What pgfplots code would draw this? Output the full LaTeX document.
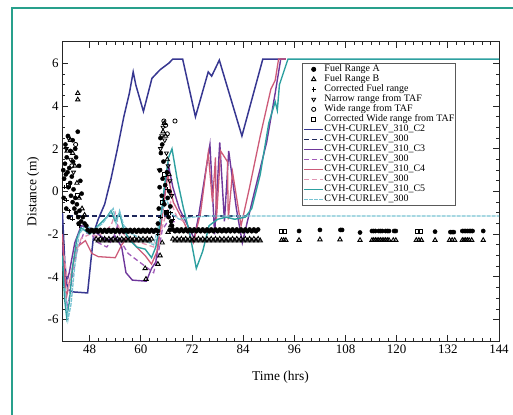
\documentclass[border=0pt]{standalone}
\usepackage{fontspec}
\setmainfont{Liberation Serif}
\usepackage{pgfplots}
\pgfplotsset{compat=1.18}

\definecolor{frameteal}{RGB}{40,160,140}
\definecolor{cTwo}{RGB}{55,55,145}
\definecolor{cNavy}{RGB}{30,40,90}
\definecolor{cThree}{RGB}{110,55,155}
\definecolor{cThreeD}{RGB}{160,90,185}
\definecolor{cFour}{RGB}{205,90,120}
\definecolor{cFourD}{RGB}{225,150,180}
\definecolor{cFive}{RGB}{45,160,160}
\definecolor{cFiveD}{RGB}{120,195,210}

\begin{document}
\begin{tikzpicture}
\path[use as bounding box] (0,0) rectangle (513bp,415bp);
\draw[frameteal, line width=1.5bp] (12bp,-2bp) -- (12bp,407bp) -- (515bp,407bp);
\begin{axis}[
  at={(62bp,74bp)}, anchor=south west,
  width=437bp, height=299bp, scale only axis,
  xmin=41.5, xmax=144, ymin=-7, ymax=7,
  xtick={48,60,...,144}, ytick={-6,-4,...,6},
  minor x tick num=5, minor y tick num=3,
  tick align=inside, major tick length=6bp, minor tick length=3bp,
  axis line style={black!85, line width=1bp},
  every tick/.style={black!85, line width=0.9bp},
  ticklabel style={font=\fontsize{13}{13}\selectfont},
  /pgf/number format/assume math mode=true,
  xlabel={Time (hrs)}, ylabel={Distance (m)},
  label style={font=\fontsize{13.5}{14}\selectfont},
  xlabel style={at={(axis description cs:0.5,-0.12)}, anchor=center},
  ylabel style={at={(axis description cs:-0.066,0.5)}, anchor=center},
  legend style={at={(rel axis cs:0.549,0.930)}, anchor=north west,
    draw=black!65, line width=0.8bp, fill=white,
    font=\fontsize{10}{10}\selectfont, inner xsep=1bp, inner ysep=1bp,
    row sep=0pt, nodes={inner sep=0.4bp, text height=7bp, text depth=2.2bp}},
  legend cell align=left,
  legend image code/.code={\draw[mark repeat=2,mark phase=2,#1]
    plot coordinates {(0cm,0cm) (0.34cm,0cm) (0.68cm,0cm)};},
]

% Fuel Range A
\addplot[only marks, mark=*, mark size=2.1bp, black] coordinates {
(41.8,1.0)(42.0,0.6)(42.2,1.3)(42.4,0.8)(42.6,1.6)(42.8,0.9)(43.0,0.2)(43.2,1.1)(43.4,0.4)(43.6,-0.2)
(43.8,0.7)(44.0,-0.5)(44.2,0.1)(44.4,-0.8)(44.6,-0.3)(44.8,-1.0)(45.0,-0.6)(45.3,-1.2)(45.6,-0.9)(46.0,-1.4)
(46.4,-1.2)(46.8,-1.5)(47.2,-1.6)(45.2,2.8)(44.6,2.0)(45.5,1.2)(45.8,0.5)(46.1,-0.1)(42.3,2.2)(42.9,2.6)
(43.5,1.9)(44.1,1.4)(41.9,-0.3)(42.5,-0.8)(43.1,-1.2)(45.4,-1.5)(44.0,2.4)(44.8,1.6)
(47.5,-1.80)(48.0,-1.88)(48.5,-1.80)(49.0,-1.88)(49.5,-1.80)(50.0,-1.88)(50.5,-1.80)(51.0,-1.88)
(51.5,-1.80)(52.0,-1.88)(52.5,-1.80)(53.0,-1.88)(53.5,-1.80)(54.0,-1.88)(54.5,-1.80)(55.0,-1.88)
(55.5,-1.80)(56.0,-1.88)(56.5,-1.80)(57.0,-1.88)(57.5,-1.80)(58.0,-1.88)(58.5,-1.80)(59.0,-1.88)
(59.5,-1.80)(60.0,-1.88)(60.5,-1.80)(61.0,-1.88)(61.5,-1.80)(62.0,-1.88)(62.5,-1.80)(63.0,-1.88)
(64.0,-1.5)(64.2,-0.8)(64.4,0.2)(64.5,1.0)(64.7,1.8)(64.9,-0.2)(65.1,0.6)(65.3,1.4)(65.5,-0.6)(65.7,0.3)
(65.9,-1.0)(66.1,0.9)(66.3,-0.3)(66.5,-1.2)(66.7,0.0)(66.9,-0.7)(67.1,-1.4)(67.3,-1.6)(64.6,2.5)(65.0,2.2)
(63.5,-1.8)(64.0,-1.85)(66.8,-1.8)
(67.5,-1.78)(68.0,-1.86)(68.5,-1.78)(69.0,-1.86)(69.5,-1.78)(70.0,-1.86)(70.5,-1.78)(71.0,-1.86)
(71.5,-1.78)(72.0,-1.86)(72.5,-1.78)(73.0,-1.86)(73.5,-1.78)(74.0,-1.86)(74.5,-1.78)(75.0,-1.86)
(75.5,-1.78)(76.0,-1.86)(76.5,-1.78)(77.0,-1.86)(77.5,-1.78)(78.0,-1.86)(78.5,-1.78)(79.0,-1.86)
(79.5,-1.78)(80.0,-1.86)(80.5,-1.78)(81.0,-1.86)(81.5,-1.78)(82.0,-1.86)(82.5,-1.78)(83.0,-1.86)
(83.5,-1.78)(84.0,-1.86)(84.5,-1.78)(85.0,-1.86)(85.5,-1.78)(86.0,-1.86)(86.5,-1.78)(87.0,-1.86)
(87.5,-1.78)
(97.1,-1.85)(102.0,-1.80)(106.8,-1.80)(107.2,-1.80)(111.4,-1.92)
(114.2,-1.85)(114.6,-1.85)(115.0,-1.85)(115.8,-1.85)(116.2,-1.85)(116.6,-1.85)(117.4,-1.85)(117.8,-1.85)
(118.2,-1.85)(119.4,-1.85)(119.8,-1.85)
(129.0,-1.88)(132.6,-1.9)(133.0,-1.9)(133.4,-1.9)(135.4,-1.85)(135.8,-1.85)(136.2,-1.85)(136.6,-1.85)
(137.0,-1.85)(137.4,-1.85)(137.8,-1.85)(140.3,-1.85)
};
\addlegendentry{Fuel Range A}

% Fuel Range B
\addplot[only marks, mark=triangle, mark size=2.5bp, black, mark options={line width=0.9bp}] coordinates {
(45.2,4.6)(45.2,4.3)(43.5,2.4)(44.0,1.8)(44.5,1.2)(45.0,0.4)(45.5,-0.3)(42.7,1.9)(46.2,-0.8)(46.8,-1.1)
(49.5,-2.22)(50.0,-2.30)(50.5,-2.22)(51.0,-2.30)(51.5,-2.22)(52.0,-2.30)(52.5,-2.22)(53.0,-2.30)
(53.5,-2.22)(54.0,-2.30)(54.5,-2.22)(55.0,-2.30)(55.5,-2.22)(56.0,-2.30)(56.5,-2.22)(57.0,-2.30)
(57.5,-2.22)(58.0,-2.30)(58.5,-2.22)(59.0,-2.30)(59.5,-2.22)(60.0,-2.30)(60.5,-2.22)(61.0,-2.30)
(61.5,-2.22)(62.0,-2.30)(62.5,-2.22)
(64.5,-3.0)(64.0,-3.4)(61.0,-3.6)(61.2,-4.1)(65.2,2.8)(65.5,3.2)(65.8,2.6)(66.2,1.5)(66.6,0.8)
(65.0,-2.4)(66.4,-1.9)(67.0,-1.6)
(67.5,-2.22)(68.0,-2.30)(68.5,-2.22)(69.0,-2.30)(69.5,-2.22)(70.0,-2.30)(70.5,-2.22)(71.0,-2.30)
(71.5,-2.22)(72.0,-2.30)(72.5,-2.22)(73.0,-2.30)(73.5,-2.22)(74.0,-2.30)(74.5,-2.22)(75.0,-2.30)
(75.5,-2.22)(76.0,-2.30)(76.5,-2.22)(77.0,-2.30)(77.5,-2.22)(78.0,-2.30)(78.5,-2.22)(79.0,-2.30)
(79.5,-2.22)(80.0,-2.30)(80.5,-2.22)(81.0,-2.30)(81.5,-2.22)(82.0,-2.30)(82.5,-2.22)(83.0,-2.30)
(83.5,-2.22)(84.0,-2.30)(84.5,-2.22)(85.0,-2.30)(85.5,-2.22)(86.0,-2.30)(86.5,-2.22)(87.0,-2.30)
(87.5,-2.22)(88.0,-2.30)
(93.0,-2.28)(93.5,-2.28)(94.0,-2.28)(97.1,-2.28)(102.0,-2.25)(106.7,-2.25)(111.4,-2.28)
(114.2,-2.28)(114.6,-2.28)(115.0,-2.28)(115.4,-2.28)(115.8,-2.28)(116.2,-2.28)(116.6,-2.28)(117.0,-2.28)
(117.4,-2.28)(117.8,-2.28)(118.2,-2.28)(119.2,-2.28)(119.8,-2.28)
(124.6,-2.28)(125.2,-2.28)(125.8,-2.28)(129.0,-2.28)(132.4,-2.28)(133.0,-2.28)(133.6,-2.28)
(135.4,-2.28)(135.8,-2.28)(136.2,-2.28)(136.6,-2.28)(137.0,-2.28)(137.6,-2.28)(140.3,-2.28)
};
\addlegendentry{Fuel Range B}

% Corrected fuel range
\addplot[only marks, mark=+, mark size=2.2bp, black, mark options={line width=0.9bp}] coordinates {
(42.0,0.2)(42.6,-0.4)(43.2,-0.9)(44.0,-1.3)(45.5,-1.6)(64.0,-2.0)(64.6,-1.2)(65.2,-0.4)(66.2,0.1)
(67.0,-1.0)(67.6,-1.3)
};
\addlegendentry{Corrected Fuel range}

% Narrow range from TAF
\addplot[only marks, mark=triangle, mark size=2.3bp, black, mark options={rotate=180, line width=0.8bp}] coordinates {
(64.3,1.0)(64.6,2.0)(64.9,2.6)(65.2,3.0)(65.6,2.4)(66.0,1.8)(66.4,1.2)(66.8,0.5)(67.2,-0.2)
(42.5,2.0)(43.0,2.5)(43.5,1.5)(44.2,0.9)
};
\addlegendentry{Narrow range from TAF}

% Wide range from TAF
\addplot[only marks, mark=o, mark size=2.1bp, black, mark options={line width=0.8bp}] coordinates {
(68.0,3.3)(65.4,3.3)(65.8,3.1)(66.2,2.7)(44.7,2.2)(43.8,1.2)
};
\addlegendentry{Wide range from TAF}

% Corrected wide range from TAF
\addplot[only marks, mark=square, mark size=2bp, black, mark options={line width=0.8bp}] coordinates {
(65.0,-0.5)(65.6,0.8)(66.0,-1.0)(93.0,-1.85)(93.6,-1.85)(124.9,-1.85)(125.5,-1.85)(45.0,-0.2)(43.0,0.3)
};
\addlegendentry{Corrected Wide range from TAF}

% CVH-CURLEV_310_C2
\addplot[cTwo, line width=1.5bp] coordinates {
(41.6,-1.0)(42.2,-3.5)(43.0,-4.6)(44.0,-4.7)(47.5,-4.75)(48.3,-3.2)(49.0,-1.9)(50.0,-1.3)(51.5,-0.6)
(53.0,0.6)(54.5,2.0)(56.0,3.5)(57.3,4.6)(58.2,5.6)(58.8,5.0)(60.6,3.75)(62.6,5.3)(64.5,5.7)(66.5,6.0)
(67.5,6.2)(69.8,6.2)(72.8,3.5)(75.8,5.6)(76.6,5.4)(78.4,6.15)(83.7,2.6)(88.6,6.2)(94.0,6.2)
};
\addlegendentry{CVH-CURLEV\_310\_C2}

% CVH-CURLEV_300
\addplot[cNavy, line width=1.4bp, dash pattern=on 5bp off 3bp] coordinates {
(42.9,-1.15)(85.0,-1.15)
};
\addlegendentry{CVH-CURLEV\_300}

% CVH-CURLEV_310_C3
\addplot[cThree, line width=1.4bp] coordinates {
(41.6,-2.5)(42.3,-4.5)(43.2,-3.8)(44.5,-2.4)(46.0,-1.6)(48.0,-1.7)(50.0,-2.0)(52.0,-2.3)(54.0,-2.1)
(55.5,-2.6)(56.5,-3.8)(58.0,-4.15)(61.3,-4.2)(62.5,-3.6)(63.5,-3.3)(64.5,-1.8)(65.5,-0.2)(66.5,1.2)
(67.5,0.2)(69.0,-0.8)(71.0,-1.6)(72.5,-2.2)(73.5,-1.2)(76.2,2.2)(77.3,-2.0)(78.5,2.3)(79.6,-1.4)
(80.6,1.9)(82.4,-0.8)(83.8,-2.4)(86.3,-0.3)(89.5,2.3)(91.5,4.6)(92.8,6.2)(94.0,6.2)
};
\addlegendentry{CVH-CURLEV\_310\_C3}

% CVH-CURLEV_300
\addplot[cThreeD, line width=1.3bp, dash pattern=on 5bp off 3bp] coordinates {
(42.0,-4.0)(42.8,-5.5)(43.8,-4.2)(45.0,-2.8)(46.5,-2.0)(48.0,-1.9)(50.0,-2.4)(52.0,-2.6)(53.5,-2.2)
(54.5,-1.6)(55.5,-2.4)(57.0,-2.9)(59.0,-3.2)(61.0,-3.5)(63.0,-3.8)(64.0,-3.0)(65.0,-1.8)(66.0,-1.5)
(68.0,-1.4)
};
\addlegendentry{CVH-CURLEV\_300}

% CVH-CURLEV_310_C4
\addplot[cFour, line width=1.3bp] coordinates {
(41.6,-2.0)(42.5,-5.0)(43.5,-4.0)(45.0,-2.6)(47.0,-2.3)(48.5,-2.9)(50.0,-3.05)(54.0,-3.1)(55.5,-2.5)
(57.0,-2.1)(59.0,-2.6)(61.0,-3.0)(62.5,-3.4)(63.8,-2.8)(65.0,-1.2)(66.3,0.8)(67.6,-0.5)(70.0,-1.4)
(72.3,-2.4)(74.0,-1.0)(75.8,1.8)(76.8,-0.5)(77.5,1.6)(77.7,-1.4)(78.7,1.9)(80.3,1.4)(80.5,-1.3)
(81.5,0.9)(83.5,-1.6)(85.5,0.2)(88.0,2.6)(90.5,4.8)(91.5,5.2)(92.3,6.2)(94.0,6.2)
};
\addlegendentry{CVH-CURLEV\_310\_C4}

% CVH-CURLEV_300
\addplot[cFourD, line width=1.3bp, dash pattern=on 5bp off 3bp] coordinates {
(42.0,-3.0)(43.0,-4.5)(44.5,-3.0)(46.0,-2.2)(48.0,-2.0)(50.0,-2.1)(53.0,-1.6)(54.0,-1.0)(55.0,-1.8)
(57.0,-2.2)(60.0,-2.4)(63.0,-2.6)(64.5,-2.0)(66.0,-1.0)(67.0,-0.5)(68.5,-1.2)(70.0,-1.4)
};
\addlegendentry{CVH-CURLEV\_300}

% CVH-CURLEV_310_C5
\addplot[cFive, line width=1.4bp] coordinates {
(41.6,-3.0)(42.1,-5.0)(42.6,-5.9)(43.2,-5.2)(44.0,-3.5)(45.0,-2.2)(46.0,-1.7)(48.0,-2.0)(50.0,-1.6)
(52.0,-1.2)(53.0,-0.9)(54.0,-1.4)(55.0,-1.0)(56.0,-1.8)(57.5,-2.3)(59.0,-2.6)(61.0,-2.7)(62.5,-3.1)
(63.5,-2.6)(64.5,-1.5)(65.5,0.2)(66.5,1.6)(67.3,2.0)(68.5,0.6)(70.0,-0.8)(71.5,-2.0)(73.0,-3.6)
(74.5,-2.8)(76.0,-1.6)(78.0,-1.3)(80.0,-1.2)(82.0,-1.3)(84.5,-1.2)(86.0,-0.8)(88.0,0.8)(90.0,3.2)
(91.5,4.2)(92.0,3.8)(92.5,5.0)(93.5,5.6)(94.5,6.2)(144.0,6.2)
};
\addlegendentry{CVH-CURLEV\_310\_C5}

% CVH-CURLEV_300
\addplot[cFiveD, line width=1.3bp, dash pattern=on 4bp off 1bp] coordinates {
(42.2,-4.5)(42.9,-6.0)(43.6,-5.3)(44.5,-3.5)(45.5,-2.0)(47.0,-1.6)(49.0,-1.8)(51.0,-1.5)(52.5,-1.1)
(53.5,-0.8)(54.2,-1.5)(55.0,-0.9)(56.0,-1.6)(58.0,-2.0)(61.0,-2.3)(63.0,-2.5)(64.5,-1.3)(66.0,-0.3)
(67.0,-1.0)(69.0,-1.3)(72.0,-1.2)(76.0,-1.15)(84.0,-1.15)(144.0,-1.15)
};
\addlegendentry{CVH-CURLEV\_300}

\end{axis}
\end{tikzpicture}
\end{document}
